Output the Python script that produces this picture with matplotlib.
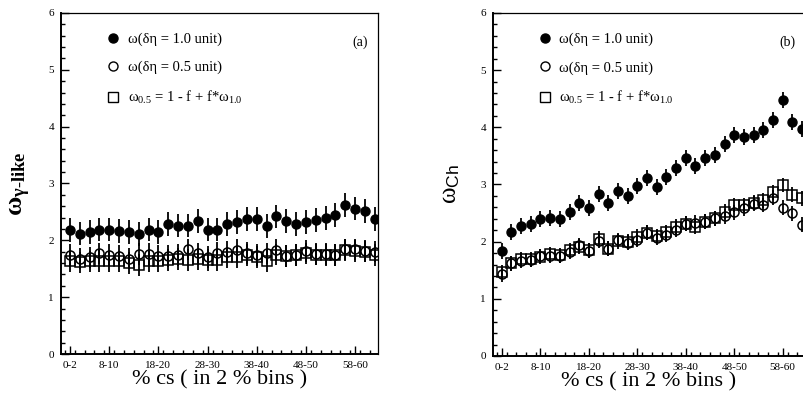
import numpy as np
import matplotlib.pyplot as plt
from matplotlib.lines import Line2D
from matplotlib.ticker import MultipleLocator

plt.rcParams['font.family'] = ['Liberation Serif', 'DejaVu Serif']
plt.rcParams['mathtext.fontset'] = 'custom'
plt.rcParams['mathtext.rm'] = 'Liberation Serif'
plt.rcParams['mathtext.it'] = 'Liberation Serif:italic'
plt.rcParams['mathtext.bf'] = 'Liberation Serif:bold'
plt.rcParams['mathtext.sf'] = 'Liberation Sans'
plt.rcParams['mathtext.default'] = 'regular'

# bin centres of % cs (2 % wide bins, 0-2 ... 62-64)
cs = np.arange(1, 64, 2)
tick_pos = [1, 9, 19, 29, 39, 49, 59]
tick_labels = ['0-2', '8-10', '18-20', '28-30', '38-40', '48-50', '58-60']

# (a) gamma-like
g_w10 = [2.18, 2.12, 2.15, 2.19, 2.19, 2.17, 2.14, 2.11, 2.19, 2.14, 2.29, 2.26,
         2.26, 2.34, 2.19, 2.19, 2.29, 2.33, 2.38, 2.38, 2.25, 2.42, 2.34, 2.29,
         2.33, 2.36, 2.39, 2.45, 2.62, 2.56, 2.52, 2.38]
g_w05 = [1.74, 1.68, 1.70, 1.77, 1.74, 1.72, 1.68, 1.76, 1.76, 1.72, 1.72, 1.74,
         1.84, 1.77, 1.71, 1.78, 1.80, 1.83, 1.78, 1.74, 1.77, 1.83, 1.72, 1.74,
         1.81, 1.76, 1.76, 1.74, 1.84, 1.84, 1.81, 1.80]
g_sc = [1.64, 1.61, 1.63, 1.64, 1.64, 1.63, 1.60, 1.57, 1.63, 1.63, 1.65, 1.67,
        1.65, 1.67, 1.65, 1.65, 1.70, 1.70, 1.74, 1.71, 1.64, 1.75, 1.72, 1.74,
        1.77, 1.75, 1.74, 1.74, 1.83, 1.81, 1.80, 1.74]
g_err10 = 0.21
g_err05 = 0.19

# (b) charged
c_w10 = [1.83, 2.17, 2.28, 2.31, 2.40, 2.41, 2.40, 2.52, 2.68, 2.58, 2.83, 2.68,
         2.88, 2.79, 2.98, 3.11, 2.96, 3.13, 3.28, 3.46, 3.32, 3.47, 3.51, 3.71,
         3.86, 3.83, 3.87, 3.95, 4.13, 4.47, 4.10, 3.97]
c_w05 = [1.43, 1.62, 1.67, 1.68, 1.75, 1.75, 1.75, 1.82, 1.94, 1.84, 2.02, 1.88,
         2.03, 1.98, 2.03, 2.16, 2.07, 2.12, 2.21, 2.31, 2.33, 2.35, 2.41, 2.44,
         2.51, 2.58, 2.66, 2.64, 2.77, 2.59, 2.50, 2.30]
c_sc = [1.47, 1.62, 1.69, 1.69, 1.74, 1.78, 1.76, 1.85, 1.91, 1.85, 2.05, 1.88,
        2.01, 2.00, 2.09, 2.16, 2.10, 2.17, 2.26, 2.31, 2.26, 2.35, 2.41, 2.52,
        2.64, 2.64, 2.68, 2.72, 2.86, 2.99, 2.82, 2.76]
c_err10 = 0.14
c_err05 = 0.13

labels = ['ω(δη = 1.0 unit)',
          'ω(δη = 0.5 unit)',
          r'$ω_{0.5}$ = 1 - f + f*$ω_{1.0}$']


def panel(ax, w10, w05, sc, e10, e05, ylabel, ylsize, tag, ylpad):
    ax.errorbar(cs, sc, yerr=e05, fmt='s', ms=6.5, mfc='none', mec='black',
                mew=1.1, ecolor='black', elinewidth=1.3, capsize=0)
    ax.errorbar(cs, w05, yerr=e05, fmt='o', ms=6.5, mfc='none', mec='black',
                mew=1.1, ecolor='black', elinewidth=1.3, capsize=0)
    ax.errorbar(cs, w10, yerr=e10, fmt='o', ms=6.5, color='black',
                ecolor='black', elinewidth=1.3, capsize=0)
    ax.set_xlim(-0.8, 63.6)
    ax.set_ylim(0, 6)
    ax.set_xticks(tick_pos)
    ax.set_xticklabels(tick_labels)
    ax.xaxis.set_minor_locator(MultipleLocator(2))
    ax.yaxis.set_major_locator(MultipleLocator(1))
    ax.yaxis.set_minor_locator(MultipleLocator(0.2))
    ax.tick_params(which='both', direction='in', top=False, right=False,
                   labelsize=8, width=1)
    ax.tick_params(which='major', length=6, pad=5)
    ax.tick_params(which='minor', length=3)
    for s in ['left', 'bottom']:
        ax.spines[s].set_linewidth(1.4)
    for s in ['top', 'right']:
        ax.spines[s].set_linewidth(0.9)
    ax.set_xlabel('% cs ( in 2 % bins )', fontsize=16, labelpad=0)
    ax.set_ylabel(ylabel, fontsize=ylsize, labelpad=ylpad)
    handles = [Line2D([], [], marker='o', ls='none', color='black', ms=6.5),
               Line2D([], [], marker='o', ls='none', mfc='none', mec='black', ms=6.5),
               Line2D([], [], marker='s', ls='none', mfc='none', mec='black', ms=6.5)]
    ax.legend(handles, labels, loc='upper left', bbox_to_anchor=(0.1, 0.98),
              frameon=False, fontsize=10.5, handlelength=1.0, handletextpad=0.5,
              labelspacing=1.0)
    ax.text(0.945, 0.915, tag, transform=ax.transAxes, fontsize=10,
            ha='center', va='center')


fig = plt.figure(figsize=(8.04, 3.97), dpi=100)
ax_a = fig.add_axes([0.0759, 0.1083, 0.394, 0.859])
ax_b = fig.add_axes([0.6132, 0.1033, 0.388, 0.864])

panel(ax_a, g_w10, g_w05, g_sc, g_err10, g_err05,
      r'$\mathbf{ω}_{\mathbf{γ\text{-}like}}$', 19, '(a)', 11)
panel(ax_b, c_w10, c_w05, c_sc, c_err10, c_err05,
      r'$ω_{\mathsf{Ch}}$', 18, '(b)', 13)

fig.savefig('out.png', dpi=100)
